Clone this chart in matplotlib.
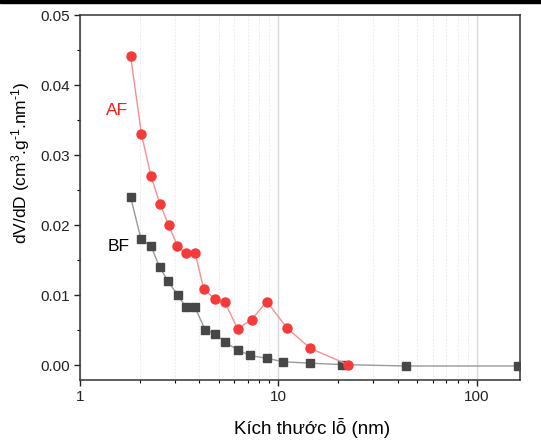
import matplotlib.pyplot as plt
import matplotlib.ticker as mticker
from matplotlib.patches import Rectangle

plt.rcParams.update({
    "font.family": ["Liberation Sans", "DejaVu Sans"],
    "font.size": 10,
    "mathtext.fontset": "custom",
    "mathtext.rm": "Liberation Sans",
    "mathtext.it": "Liberation Sans:italic",
})

# Pore size (nm) and dV/dD values
af_size = [1.80, 2.04, 2.28, 2.53, 2.80, 3.10, 3.42, 3.81, 4.20, 4.77, 5.38,
           6.22, 7.32, 8.73, 11.07, 14.5, 22.4]
af_dvdd = [0.0441, 0.0330, 0.0270, 0.0230, 0.0200, 0.0170, 0.0160, 0.0160,
           0.0109, 0.0095, 0.0090, 0.0052, 0.0065, 0.0091, 0.0053, 0.0024, 0.0001]

bf_size = [1.80, 2.03, 2.28, 2.52, 2.78, 3.11, 3.41, 3.79, 4.27, 4.77, 5.40,
           6.22, 7.18, 8.73, 10.6, 14.5, 21.0, 44.2, 162.0]
bf_dvdd = [0.0240, 0.0180, 0.0170, 0.0140, 0.0120, 0.0100, 0.0083, 0.0083,
           0.0051, 0.0045, 0.0033, 0.0022, 0.0014, 0.0010, 0.0005, 0.0003,
           0.0001, -0.0001, -0.0001]

RED = "#F53A3A"
RED_LINE = "#F59090"
DARK = "#474747"
GREY_LINE = "#9A9A9A"

fig = plt.figure(figsize=(5.41, 4.41), dpi=100)
ax = fig.add_axes([80 / 541, 1 - 380 / 441, 440 / 541, 365 / 441])

ax.plot(bf_size, bf_dvdd, color=GREY_LINE, linewidth=1.0, zorder=2)
ax.plot(bf_size, bf_dvdd, linestyle="none", marker="s", markersize=6,
        color=DARK, zorder=3)
ax.plot(af_size, af_dvdd, color=RED_LINE, linewidth=1.0, zorder=4)
ax.plot(af_size, af_dvdd, linestyle="none", marker="o", markersize=6.5,
        color=RED, zorder=5)

ax.set_xscale("log")
ax.set_xlim(1, 165)
ax.set_ylim(-0.0021, 0.05)

ax.xaxis.set_major_locator(mticker.LogLocator(base=10))
ax.xaxis.set_minor_locator(mticker.LogLocator(base=10, subs=range(2, 10)))
ax.xaxis.set_major_formatter(mticker.FuncFormatter(lambda v, _: f"{v:g}"))
ax.xaxis.set_minor_formatter(mticker.NullFormatter())
ax.yaxis.set_major_locator(mticker.MultipleLocator(0.01))
ax.yaxis.set_minor_locator(mticker.MultipleLocator(0.005))
ax.yaxis.set_major_formatter(mticker.FormatStrFormatter("%.2f"))

ax.grid(True, which="major", axis="x", color="#D8D8D8", linewidth=1.0)
ax.grid(True, which="minor", axis="x", color="#E6E6E6", linewidth=0.6,
        linestyle=(0, (2, 2)))
ax.set_axisbelow(True)

ax.tick_params(which="major", direction="out", length=4, width=1,
               labelsize=11, colors="#222222")
ax.tick_params(which="minor", direction="out", length=2.5, width=0.8)
for sp in ax.spines.values():
    sp.set_linewidth(1.1)
    sp.set_color("#333333")

ax.set_xlabel("Kích thước lỗ (nm)", fontsize=13.5)
ax.xaxis.set_label_coords(0.527, -0.105)
ax.set_ylabel("dV/dD (cm$^{3}$.g$^{\\text{-}1}$.nm$^{\\text{-}1}$)", fontsize=12.5)
ax.yaxis.set_label_coords(-0.108, 0.595)

ax.text(1.35, 0.0357, "AF", color="#FF1A1A", fontsize=12.5)
ax.text(1.37, 0.0163, "BF", color="black", fontsize=12.5)

# dark band along the top edge of the screenshot
fig.add_artist(Rectangle((0, 1 - 3 / 441), 1, 3 / 441,
                         transform=fig.transFigure, color="black"))

fig.savefig("out.png", dpi=100)
